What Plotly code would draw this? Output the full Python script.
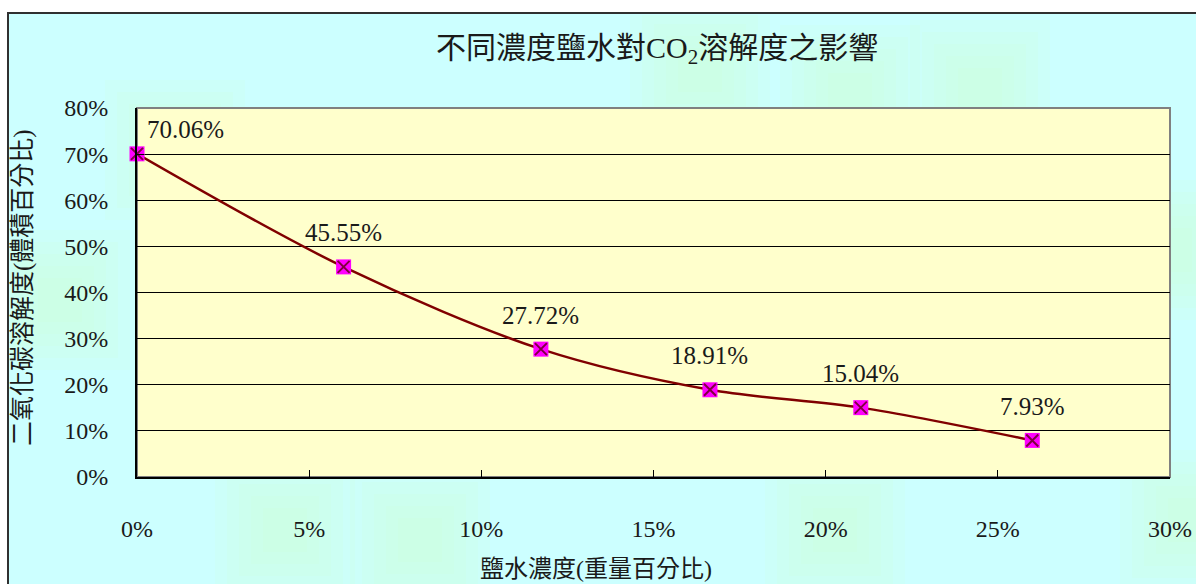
import plotly.graph_objects as go

# Salt concentration (wt %) and CO2 solubility (vol %)
salt_pct = [0.0, 6.0, 11.73, 16.64, 21.02, 26.0]
co2_pct = [70.06, 45.55, 27.72, 18.91, 15.04, 7.93]
value_labels = ["70.06%", "45.55%", "27.72%", "18.91%", "15.04%", "7.93%"]

x_ticks = [0, 5, 10, 15, 20, 25, 30]
x_ticklabels = ["0%", "5%", "10%", "15%", "20%", "25%", "30%"]
y_ticks = [0, 10, 20, 30, 40, 50, 60, 70, 80]
y_ticklabels = ["0%", "10%", "20%", "30%", "40%", "50%", "60%", "70%", "80%"]

title_text = "不同濃度鹽水對CO<sub>2</sub>溶解度之影響"
x_title = "鹽水濃度(重量百分比)"
y_title = "二氧化碳溶解度(體積百分比)"

FONT = "Liberation Serif, Noto Sans CJK TC, serif"
W, H = 1196, 584
L, R, T, B = 137, 26, 108, 107
pw, ph = W - L - R, H - T - B


def px_to_paper_x(px):
    return (px - L) / pw


def px_to_paper_y(py):
    return (H - B - py) / ph


fig = go.Figure()

fig.add_trace(go.Scatter(
    x=salt_pct, y=co2_pct, mode="lines",
    line=dict(color="#800000", width=2.5, shape="spline", smoothing=0.9),
    hoverinfo="skip", showlegend=False,
))
fig.add_trace(go.Scatter(
    x=salt_pct, y=co2_pct, mode="markers",
    marker=dict(symbol="square", size=15, color="#FF00FF",
                line=dict(width=0)),
    showlegend=False, cliponaxis=False,
))
fig.add_trace(go.Scatter(
    x=salt_pct, y=co2_pct, mode="markers",
    marker=dict(symbol="x-thin", size=12, color="#800000",
                line=dict(width=2, color="#800040")),
    showlegend=False, cliponaxis=False,
))

# Value labels above each point
for i, (xv, yv, lab) in enumerate(zip(salt_pct, co2_pct, value_labels)):
    fig.add_annotation(
        x=xv, y=yv, text=lab, showarrow=False,
        xanchor="center", yanchor="middle",
        xshift=48 if i == 0 else 0, yshift=24 if i == 0 else 34,
        font=dict(family=FONT, size=25, color="#1a1a1a"),
    )

shapes = []
# Chart area background with frame
shapes.append(dict(type="rect", xref="paper", yref="paper",
                   x0=px_to_paper_x(8), x1=px_to_paper_x(1210),
                   y0=px_to_paper_y(600), y1=px_to_paper_y(13),
                   fillcolor="#CCFFFF", line=dict(color="#303030", width=2),
                   layer="below"))

# Faint soft green patches in the chart area texture
blob_centers = [(175, 150), (285, 530), (835, 530), (60, 300), (850, 95),
                (980, 90), (1170, 250), (1190, 520), (700, 70), (420, 540)]
for cx, cy in blob_centers:
    for hw in [70, 58, 46, 34, 22]:
        shapes.append(dict(type="rect", xref="paper", yref="paper",
                           x0=px_to_paper_x(max(cx - hw, 10)),
                           x1=px_to_paper_x(cx + hw),
                           y0=px_to_paper_y(cy + hw),
                           y1=px_to_paper_y(max(cy - hw, 15)),
                           fillcolor="#CCFFCC", opacity=0.12,
                           line=dict(width=0), layer="below"))

# Plot area fill
shapes.append(dict(type="rect", xref="x domain", yref="y domain",
                   x0=0, x1=1, y0=0, y1=1,
                   fillcolor="#FFFFCC", line=dict(color="#808080", width=2),
                   layer="below"))

fig.update_layout(shapes=shapes)

fig.add_annotation(x=px_to_paper_x(657), y=px_to_paper_y(50),
                   xref="paper", yref="paper",
                   xanchor="center", yanchor="middle",
                   text=title_text, showarrow=False,
                   font=dict(family=FONT, size=30, color="#1a1a1a"))
fig.add_annotation(x=px_to_paper_x(596), y=px_to_paper_y(569),
                   xref="paper", yref="paper",
                   xanchor="center", yanchor="middle",
                   text=x_title, showarrow=False,
                   font=dict(family=FONT, size=24, color="#1a1a1a"))
fig.add_annotation(x=px_to_paper_x(23), y=px_to_paper_y(288),
                   xref="paper", yref="paper",
                   xanchor="center", yanchor="middle",
                   text=y_title, showarrow=False, textangle=-90,
                   font=dict(family=FONT, size=25, color="#1a1a1a"))

fig.update_xaxes(
    range=[0, 30], tickvals=x_ticks, ticktext=x_ticklabels,
    showgrid=False, zeroline=False, automargin=False,
    showline=True, linecolor="#000000", linewidth=2,
    ticks="inside", ticklen=7, tickcolor="#000000", tickwidth=1,
    ticklabelstandoff=29,
    tickfont=dict(family=FONT, size=24, color="#1a1a1a"),
    fixedrange=True,
)
fig.update_yaxes(
    range=[0, 80], tickvals=y_ticks, ticktext=y_ticklabels,
    showgrid=True, gridcolor="#000000", gridwidth=1, zeroline=False,
    automargin=False,
    showline=True, linecolor="#000000", linewidth=2,
    ticks="inside", ticklen=7, tickcolor="#000000", tickwidth=1,
    ticklabelstandoff=22,
    tickfont=dict(family=FONT, size=24, color="#1a1a1a"),
    fixedrange=True,
)

fig.update_layout(
    width=W, height=H,
    margin=dict(l=L, r=R, t=T, b=B),
    paper_bgcolor="#FFFFFF", plot_bgcolor="rgba(0,0,0,0)",
    showlegend=False,
)

fig.write_html("out.html", config={"displayModeBar": False})
